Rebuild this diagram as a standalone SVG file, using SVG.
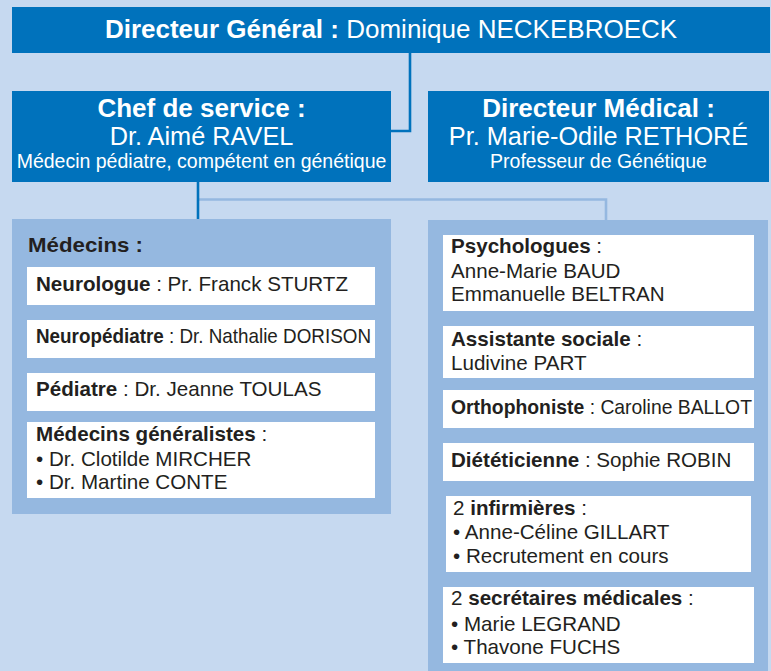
<svg xmlns="http://www.w3.org/2000/svg" width="771" height="671" viewBox="0 0 771 671">
<style>
.hd{fill:#0072bc}
.pn{fill:#95b8e0}
.wb{fill:#ffffff}
.ht{font-family:"Liberation Sans",Arial,sans-serif;fill:#ffffff;text-anchor:middle}
.tx{font-family:"Liberation Sans",Arial,sans-serif;fill:#231f20;font-size:20.6px}
.b{font-weight:bold}
.dk{stroke:#0072bc;stroke-width:2.6;fill:none}
.lt{stroke:#95b8e0;stroke-width:2.6;fill:none}
</style>
<rect x="0" y="0" width="771" height="671" fill="#c6d9f0"/>
<g id="connectors">
<path class="dk" d="M410,53 V131 H391"/>
<path class="lt" d="M198,199.5 H606 V220"/>
<path class="dk" d="M198,182 V220"/>
</g>
<g id="directeur-general">
<rect class="hd" x="12" y="7" width="758" height="46"/>
<text class="ht" x="391" y="38" font-size="26"><tspan font-weight="bold">Directeur Général :</tspan> Dominique NECKEBROECK</text>
</g>
<g id="chef-de-service">
<rect class="hd" x="12" y="91" width="379" height="91"/>
<text class="ht b" x="201.5" y="117" font-size="26">Chef de service :</text>
<text class="ht" x="201.5" y="145" font-size="25.3">Dr. Aimé RAVEL</text>
<text class="ht" x="201.5" y="168" font-size="19.5">Médecin pédiatre, compétent en génétique</text>
</g>
<g id="directeur-medical">
<rect class="hd" x="428" y="91" width="341" height="91"/>
<text class="ht b" x="598.5" y="117" font-size="26">Directeur Médical :</text>
<text class="ht" x="598.5" y="145" font-size="25.3">Pr. Marie-Odile RETHORÉ</text>
<text class="ht" x="598.5" y="168" font-size="19.5">Professeur de Génétique</text>
</g>
<g id="medecins">
<rect class="pn" x="12" y="219" width="379" height="295"/>
<text class="tx b" x="28" y="252" font-size="22" textLength="115" lengthAdjust="spacingAndGlyphs">Médecins :</text>
</g>
<g id="neurologue">
<rect class="wb" x="27" y="267" width="348" height="38"/>
<text class="tx" x="36" y="291"><tspan class="b">Neurologue</tspan> : Pr. Franck STURTZ</text>
</g>
<g id="neuropediatre">
<rect class="wb" x="27" y="320" width="348" height="38"/>
<text class="tx" x="36" y="343" textLength="335" lengthAdjust="spacingAndGlyphs"><tspan class="b">Neuropédiatre</tspan> : Dr. Nathalie DORISON</text>
</g>
<g id="pediatre">
<rect class="wb" x="27" y="373" width="348" height="38"/>
<text class="tx" x="36" y="396"><tspan class="b">Pédiatre</tspan> : Dr. Jeanne TOULAS</text>
</g>
<g id="generalistes">
<rect class="wb" x="27" y="422" width="348" height="76"/>
<text class="tx" x="36" y="441"><tspan class="b">Médecins généralistes</tspan> :</text>
<text class="tx" x="36" y="466">• Dr. Clotilde MIRCHER</text>
<text class="tx" x="36" y="489">• Dr. Martine CONTE</text>
</g>
<g id="paramedical">
<rect class="pn" x="428" y="220" width="340" height="451"/>
</g>
<g id="psychologues">
<rect class="wb" x="443" y="235" width="311" height="76"/>
<text class="tx" x="451" y="253"><tspan class="b">Psychologues</tspan> :</text>
<text class="tx" x="451" y="278">Anne-Marie BAUD</text>
<text class="tx" x="451" y="301">Emmanuelle BELTRAN</text>
</g>
<g id="assistante-sociale">
<rect class="wb" x="443" y="326" width="311" height="52"/>
<text class="tx" x="451" y="346"><tspan class="b">Assistante sociale</tspan> :</text>
<text class="tx" x="451" y="370">Ludivine PART</text>
</g>
<g id="orthophoniste">
<rect class="wb" x="443" y="390" width="311" height="38"/>
<text class="tx" x="451" y="414" textLength="301" lengthAdjust="spacingAndGlyphs"><tspan class="b">Orthophoniste</tspan> : Caroline BALLOT</text>
</g>
<g id="dieteticienne">
<rect class="wb" x="443" y="443" width="311" height="38"/>
<text class="tx" x="451" y="467"><tspan class="b">Diététicienne</tspan> : Sophie ROBIN</text>
</g>
<g id="infirmieres">
<rect class="wb" x="446" y="496" width="305" height="76"/>
<text class="tx" x="453" y="515">2 <tspan class="b">infirmières</tspan> :</text>
<text class="tx" x="453" y="539">• Anne-Céline GILLART</text>
<text class="tx" x="453" y="563">• Recrutement en cours</text>
</g>
<g id="secretaires">
<rect class="wb" x="443" y="587" width="311" height="76"/>
<text class="tx" x="451" y="605">2 <tspan class="b">secrétaires médicales</tspan> :</text>
<text class="tx" x="451" y="631">• Marie LEGRAND</text>
<text class="tx" x="451" y="654">• Thavone FUCHS</text>
</g>
</svg>
